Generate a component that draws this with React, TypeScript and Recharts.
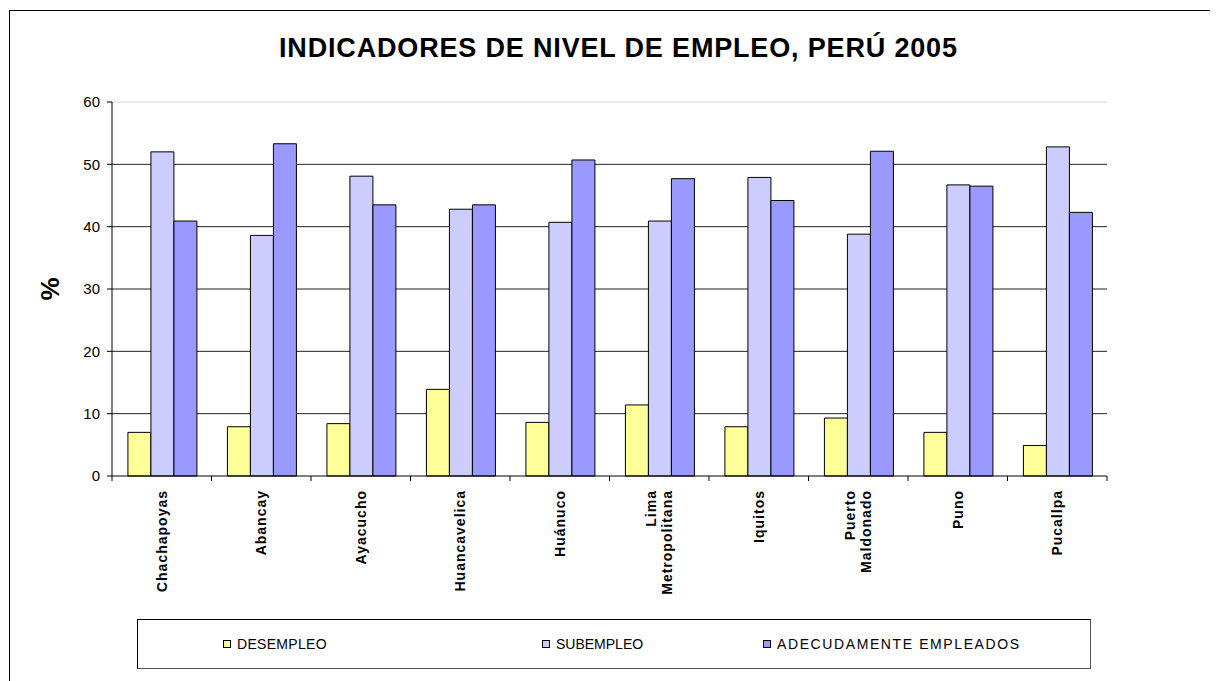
import React from 'react';
import { BarChart, Bar, XAxis, YAxis, CartesianGrid, ReferenceLine } from 'recharts';

const categories = [
  'Chachapoyas',
  'Abancay',
  'Ayacucho',
  'Huancavelica',
  'Huánuco',
  'Lima\nMetropolitana',
  'Iquitos',
  'Puerto\nMaldonado',
  'Puno',
  'Pucallpa',
];
const desempleo = [7.0, 7.9, 8.4, 13.9, 8.6, 11.4, 7.9, 9.3, 7.0, 4.9];
const subempleo = [52.0, 38.6, 48.1, 42.8, 40.7, 40.9, 47.9, 38.8, 46.7, 52.8];
const adecuados = [40.9, 53.3, 43.5, 43.5, 50.7, 47.7, 44.2, 52.1, 46.5, 42.3];
const yTicks = [0, 10, 20, 30, 40, 50, 60];
const seriesNames = ['DESEMPLEO', 'SUBEMPLEO', 'ADECUDAMENTE EMPLEADOS'];
const seriesKeys = ['des', 'sub', 'ade'];
const seriesColors = ['#FFFF99', '#CCCCFF', '#9999FF'];
const title = 'INDICADORES DE NIVEL DE EMPLEO, PERÚ 2005';

const data = categories.map((c, i) => ({
  name: c,
  des: desempleo[i],
  sub: subempleo[i],
  ade: adecuados[i],
}));

const FONT = '"Liberation Sans", Arial, Helvetica, sans-serif';

const CHART_W = 1160;
const CHART_H = 608;
const MARGIN = { top: 94, right: 61, bottom: 0, left: 40 };
const YAXIS_W = 64;
const PLOT_W = CHART_W - MARGIN.left - MARGIN.right - YAXIS_W;

const CategoryTick = (props: any) => {
  const { x, y, payload, index } = props;
  const half =
    payload && typeof payload.offset === 'number' && payload.offset > 0
      ? payload.offset
      : PLOT_W / categories.length / 2;
  const lines = String(payload.value).split('\n');
  const lh = 16;
  const n = lines.length;
  return (
    <g>
      <line x1={x - half} y1={y} x2={x - half} y2={y + 5} stroke="#000" strokeWidth={1} />
      {index === categories.length - 1 && (
        <line x1={x + half} y1={y} x2={x + half} y2={y + 5} stroke="#000" strokeWidth={1} />
      )}
      <g transform={`translate(${x},${y + 14}) rotate(-90)`}>
        <text
          textAnchor="end"
          fontFamily={FONT}
          fontWeight="bold"
          fontSize={14}
          letterSpacing={1}
          fill="#000"
        >
          {lines.map((l, i) => (
            <tspan key={i} x={0} y={(i - (n - 1) / 2) * lh + 5}>
              {l}
            </tspan>
          ))}
        </text>
      </g>
    </g>
  );
};

const PercentLabel = (props: any) => {
  const vb = props.viewBox || { x: 40, y: 94, width: 64, height: 374 };
  const cx = vb.x + 2;
  const cy = vb.y + vb.height / 2;
  return (
    <text
      x={cx}
      y={cy}
      transform={`rotate(-90, ${cx}, ${cy})`}
      textAnchor="middle"
      dominantBaseline="central"
      fontFamily={FONT}
      fontWeight="bold"
      fontSize={26}
      fill="#000"
    >
      %
    </text>
  );
};

const legendLefts = [85, 404, 625];
const legendSpacing = [0.3, 0, 1.6];

export default function App() {
  return (
    <div
      style={{
        position: 'relative',
        width: 1210,
        height: 673,
        overflow: 'hidden',
        background: '#fff',
        fontFamily: FONT,
      }}
    >
      <div
        style={{
          position: 'absolute',
          left: 1,
          top: 2,
          width: 1400,
          height: 900,
          border: '1px solid #000',
          boxSizing: 'border-box',
        }}
      />
      <svg
        style={{ position: 'absolute', left: 0, top: 0 }}
        width={1210}
        height={80}
      >
        <text
          x={271}
          y={48.6}
          fontFamily={FONT}
          fontWeight="bold"
          fontSize={27}
          textLength={678}
          lengthAdjust="spacing"
          fill="#000"
        >
          {title}
        </text>
      </svg>
      <div style={{ position: 'absolute', left: 0, top: 0 }}>
        <BarChart
          width={CHART_W}
          height={CHART_H}
          data={data}
          margin={MARGIN}
          barCategoryGap="16%"
          barGap={0}
        >
          <CartesianGrid
            vertical={false}
            horizontalValues={[10, 20, 30, 40, 50]}
            stroke="#222"
            strokeWidth={1}
          />
          <ReferenceLine y={60} stroke="#d4d4d4" strokeWidth={1} ifOverflow="extendDomain" />
          <XAxis
            dataKey="name"
            interval={0}
            height={140}
            tickLine={false}
            tickSize={0}
            tickMargin={0}
            axisLine={{ stroke: '#000' }}
            tick={<CategoryTick />}
          />
          <YAxis
            width={YAXIS_W}
            domain={[0, 60]}
            ticks={yTicks}
            interval={0}
            tickSize={5}
            tickMargin={7}
            axisLine={{ stroke: '#000' }}
            tickLine={{ stroke: '#000' }}
            tick={{ fontFamily: FONT, fontSize: 15, fill: '#000' }}
            label={<PercentLabel />}
          />
          {seriesKeys.map((k, i) => (
            <Bar
              key={k}
              dataKey={k}
              name={seriesNames[i]}
              fill={seriesColors[i]}
              stroke="#000"
              strokeWidth={1}
              isAnimationActive={false}
            />
          ))}
        </BarChart>
      </div>
      <div
        style={{
          position: 'absolute',
          left: 129,
          top: 611,
          width: 954,
          height: 50,
          boxSizing: 'border-box',
          borderTop: '1px solid #000',
          borderLeft: '1px solid #000',
          borderRight: '1px solid #555',
          borderBottom: '1px solid #555',
        }}
      >
        {seriesNames.map((name, i) => (
          <div
            key={name}
            style={{
              position: 'absolute',
              left: legendLefts[i],
              top: 15,
              height: 18,
              display: 'flex',
              alignItems: 'center',
              whiteSpace: 'nowrap',
            }}
          >
            <span
              style={{
                display: 'inline-block',
                width: 6,
                height: 6,
                background: seriesColors[i],
                border: '1px solid #000',
                marginRight: 6,
              }}
            />
            <span style={{ fontSize: 14, color: '#000', letterSpacing: legendSpacing[i] }}>
              {name}
            </span>
          </div>
        ))}
      </div>
    </div>
  );
}
